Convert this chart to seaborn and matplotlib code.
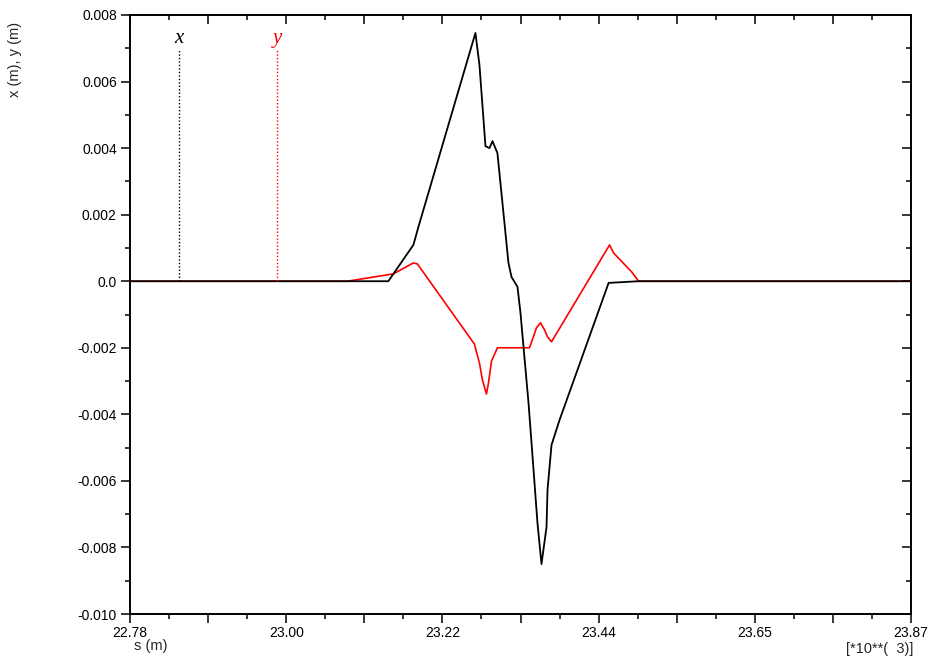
import numpy as np
import pandas as pd
import matplotlib
matplotlib.use("Agg")
import matplotlib.pyplot as plt
import seaborn as sns
from matplotlib.ticker import FixedLocator, FuncFormatter, MultipleLocator

# s in units of 10**3 m
s_x = [22.780, 23.1405, 23.1755, 23.1825, 23.2621, 23.2677, 23.2761, 23.2817, 23.2859,
       23.2928, 23.3082, 23.3124, 23.3208, 23.3250, 23.3362, 23.3432, 23.3487, 23.3543,
       23.3613, 23.3627, 23.3683, 23.3795, 23.4480, 23.4899, 23.870]
x_vals = [0.0, 0.0, 0.00109, 0.00163, 0.00746, 0.00650, 0.00406, 0.00400, 0.00421,
          0.00385, 0.00055, 0.00013, -0.00017, -0.00096, -0.00366, -0.00567, -0.00727, -0.00850,
          -0.00739, -0.00627, -0.00492, -0.00417, -0.00005, 0.0, 0.0]

s_y = [22.780, 23.0832, 23.1475, 23.1755, 23.1811, 23.2607, 23.2677, 23.2719, 23.2775,
       23.2803, 23.2845, 23.2928, 23.3376, 23.3473, 23.3529, 23.3585, 23.3627, 23.3683,
       23.4493, 23.4549, 23.4801, 23.4899, 23.870]
y_vals = [0.0, 0.0, 0.00022, 0.00055, 0.00052, -0.00189, -0.00246, -0.00297, -0.00339,
          -0.00306, -0.00240, -0.00200, -0.00200, -0.00140, -0.00125, -0.00146, -0.00167, -0.00182,
          0.00109, 0.00085, 0.00028, 0.0, 0.0]

marker_names = ["x", "y"]
marker_s = [22.8485, 22.985]
marker_colors = ["black", "red"]

x_ticks = [22.78, 23.00, 23.22, 23.44, 23.65, 23.87]
y_ticks = [0.008, 0.006, 0.004, 0.002, 0.0, -0.002, -0.004, -0.006, -0.008, -0.010]

sns.set_style("white")
plt.rcParams['font.family'] = ['Liberation Sans', 'DejaVu Sans']

fig = plt.figure(figsize=(9.31, 6.57), dpi=100)
ax = fig.add_axes([130/931, 1-614/657, (911-130)/931, (614-15)/657])

dfx = pd.DataFrame({"s": s_x, "v": x_vals})
dfy = pd.DataFrame({"s": s_y, "v": y_vals})
sns.lineplot(data=dfy, x="s", y="v", color="red", lw=1.2, ax=ax, estimator=None, sort=False)
sns.lineplot(data=dfx, x="s", y="v", color="black", lw=1.3, ax=ax, estimator=None, sort=False)

for name, sv, c in zip(marker_names, marker_s, marker_colors):
    ax.plot([sv, sv], [0.0, 0.00697], color=c, lw=1.0, ls=(0, (1, 1.5)))
    ax.text(sv, 0.0070, name, color=c, fontsize=15, style="italic",
            family=["Liberation Serif", "DejaVu Serif"], ha="center", va="bottom")

x0, x1 = 22.78, 23.87
ax.set_xlim(x0, x1)
ax.set_ylim(-0.010, 0.008)

step = (x1 - x0) / 10
majors = [x0 + k * step for k in range(11)]
ax.xaxis.set_major_locator(FixedLocator(majors))
labmap = {0: x_ticks[0], 2: x_ticks[1], 4: x_ticks[2], 6: x_ticks[3], 8: x_ticks[4], 10: x_ticks[5]}
ax.xaxis.set_major_formatter(FuncFormatter(
    lambda v, pos: (f"{labmap[pos]:.2f}" if pos in labmap else "")))
xminors = [x0 + (k + 0.5) * step for k in range(10)]
ax.xaxis.set_minor_locator(FixedLocator(xminors))

ax.yaxis.set_major_locator(FixedLocator(y_ticks))
ax.yaxis.set_major_formatter(FuncFormatter(lambda v, pos: "0.0" if abs(v) < 1e-12 else f"{v:.3f}"))
ax.yaxis.set_minor_locator(MultipleLocator(0.001))

ax.tick_params(axis="both", which="both", labelsize=10, colors="black", width=1.1,
               direction="out")
ax.tick_params(which="major", length=6.5)
ax.tick_params(which="minor", length=3.5)
ax.tick_params(axis="x", which="both", bottom=True, top=True, pad=2)
ax.tick_params(axis="y", which="both", left=True, right=True, pad=3)

for sp in ax.spines.values():
    sp.set_color("black")
    sp.set_linewidth(1.4)

ax.set_xlabel("")
ax.set_ylabel("")
fig.text(15/931, 1-59/657, "x (m), y (m)", rotation=90, ha="center", va="center", fontsize=10.5)
fig.text(151/931, 1-646/657, "s (m)", ha="center", va="center", fontsize=10.5)
fig.text(880/931, 1-649/657, "[*10**(  3)]", ha="center", va="center", fontsize=10.5)

# make top/right ticks point inward (toward plot) while bottom/left point outward
for t in ax.xaxis.get_major_ticks(len(majors)) + ax.xaxis.get_minor_ticks(len(xminors)):
    t.tick2line.set_marker(3)
for t in ax.yaxis.get_major_ticks(len(y_ticks)) + ax.yaxis.get_minor_ticks(19):
    t.tick2line.set_marker(0)

fig.savefig("out.png", dpi=100, facecolor="white")
